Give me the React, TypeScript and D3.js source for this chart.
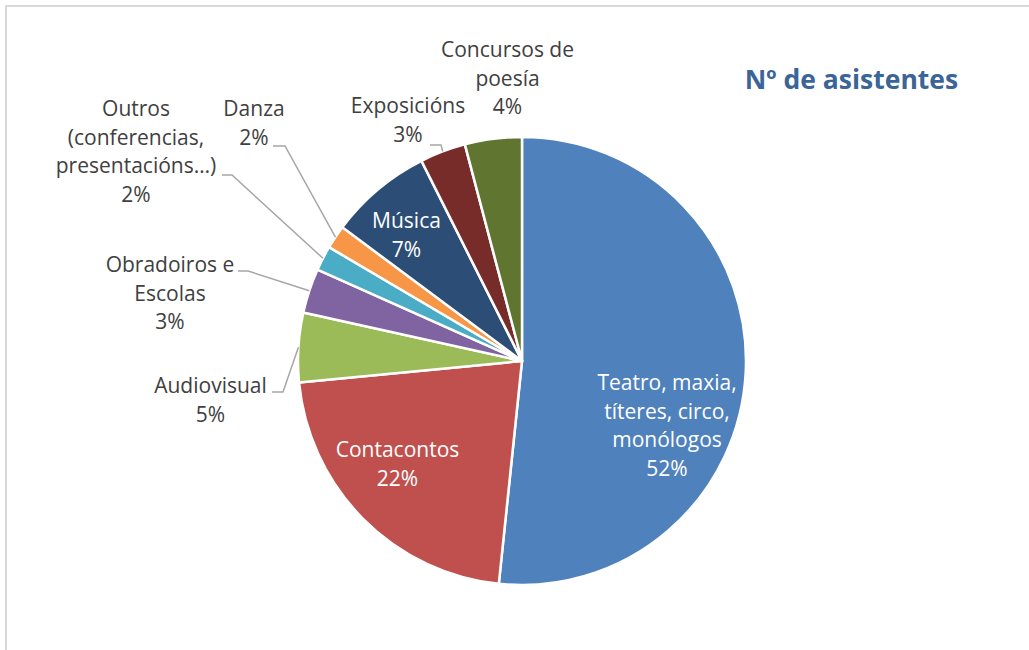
import { useRef, useEffect } from "react";
import * as d3 from "d3";

// categories in clockwise order from 12 o'clock
const categories = [
  "Teatro, maxia,\ntíteres, circo,\nmonólogos",
  "Contacontos",
  "Audiovisual",
  "Obradoiros e\nEscolas",
  "Outros\n(conferencias,\npresentacións…)",
  "Danza",
  "Música",
  "Exposicións",
  "Concursos de\npoesía",
];
const shares = [51.6, 21.8, 5.0, 3.2, 1.8, 1.7, 7.4, 3.3, 4.1];
const colors = ["#4f81bd", "#c0504d", "#9bbb59", "#8064a2", "#4bacc6", "#f79646", "#2c4d75", "#772c2a", "#5f7530"];
const title = "Nº de asistentes";

// label layout relative to pie centre: [dx, first baseline dy, inside?]
const labelLayout: [number, number, boolean][] = [
  [145, 29, true],
  [-124.5, 96, true],
  [-311.5, 32, false],
  [-352, -89, false],
  [-386, -245, false],
  [-268, -245, false],
  [-115.5, -133, true],
  [-114, -248, false],
  [-14.5, -304, false],
];
// leader lines: [text-side x, elbow x, y] relative to pie centre, null = none
const leaderLayout: ([number, number, number] | null)[] = [
  null, null,
  [-250, -239, 31],
  [-284, -274, -90],
  [-300, -290, -186],
  [-249, -237, -215],
  null,
  [-92, -81, -216],
  null,
];

export default function App() {
  const svgRef = useRef<SVGSVGElement>(null);

  useEffect(() => {
    if (!svgRef.current) return;
    const svg = d3.select(svgRef.current);
    svg.selectAll("*").remove();

    const width = 1029;
    const height = 650;
    const cx = 522;
    const cy = 361;
    const radius = 224;
    const lineH = 28.7;
    const font = "'Open Sans', sans-serif";

    svg.append("rect")
      .attr("x", 6).attr("y", 6)
      .attr("width", width + 20).attr("height", height + 20)
      .attr("fill", "#fff")
      .attr("stroke", "#d9d9d9")
      .attr("stroke-width", 2);

    const pie = d3.pie<number>().sort(null).value(d => d);
    const arcs = pie(shares);
    const arc = d3.arc<d3.PieArcDatum<number>>().innerRadius(0).outerRadius(radius);
    const edge = d3.arc<d3.PieArcDatum<number>>().innerRadius(radius).outerRadius(radius);

    const g = svg.append("g").attr("transform", `translate(${cx},${cy})`);

    g.selectAll("path.slice")
      .data(arcs)
      .join("path")
      .attr("class", "slice")
      .attr("d", arc)
      .attr("fill", (_, i) => colors[i])
      .attr("stroke", "#fff")
      .attr("stroke-width", 2.5)
      .attr("stroke-linejoin", "round");

    // leader lines
    arcs.forEach((a, i) => {
      const l = leaderLayout[i];
      if (!l) return;
      const [ex, ey] = edge.centroid(a);
      g.append("polyline")
        .attr("points", `${l[0]},${l[2]} ${l[1]},${l[2]} ${ex},${ey}`)
        .attr("fill", "none")
        .attr("stroke", "#a6a6a6")
        .attr("stroke-width", 1.5);
    });

    // labels
    arcs.forEach((a, i) => {
      const [dx, dy, inside] = labelLayout[i];
      const lines = categories[i].split("\n").concat(`${Math.round(a.data)}%`);
      const t = g.append("text")
        .attr("text-anchor", "middle")
        .attr("font-family", font)
        .attr("font-size", 21)
        .attr("fill", inside ? "#ffffff" : "#404040");
      lines.forEach((s, k) => {
        t.append("tspan").attr("x", dx).attr("y", dy + k * lineH).text(s);
      });
    });

    svg.append("text")
      .attr("x", 851.5)
      .attr("y", 88.5)
      .attr("text-anchor", "middle")
      .attr("font-family", font)
      .attr("font-weight", "bold")
      .attr("font-size", 26.5)
      .attr("fill", "#3b6497")
      .text(title);
  }, []);

  return (
    <div style={{ position: "absolute", left: 0, top: 0 }}>
      <svg ref={svgRef} width={1029} height={650} style={{ display: "block" }}></svg>
    </div>
  );
}
